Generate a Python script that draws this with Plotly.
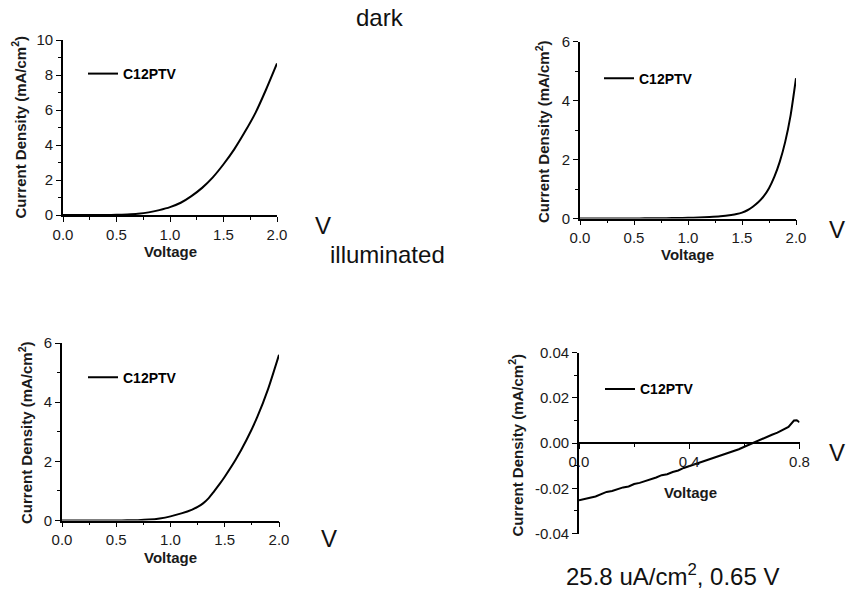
import plotly.graph_objects as go

# ---------------- data ----------------
series_name = "C12PTV"

dark1_v = [0.0, 0.1, 0.2, 0.3, 0.4, 0.5, 0.6, 0.7, 0.8, 0.9, 1.0, 1.1, 1.2, 1.3,
           1.4, 1.5, 1.6, 1.7, 1.8, 1.9, 2.0]
dark1_j = [0.0, 0.0, 0.0, 0.0, 0.003, 0.01, 0.03, 0.07, 0.15, 0.28, 0.45, 0.7, 1.08,
           1.55, 2.15, 2.9, 3.75, 4.75, 5.85, 7.2, 8.66]

dark2_v = [0.0, 0.1, 0.2, 0.3, 0.4, 0.5, 0.6, 0.7, 0.8, 0.9, 1.0, 1.1, 1.2, 1.3,
           1.4, 1.45, 1.5, 1.55, 1.6, 1.65, 1.7, 1.75, 1.8, 1.85, 1.9, 1.95, 2.0]
dark2_j = [0.0, 0.0, 0.0, 0.0, 0.0, 0.003, 0.005, 0.008, 0.012, 0.017, 0.024, 0.035,
           0.05, 0.075, 0.12, 0.15, 0.2, 0.28, 0.4, 0.55, 0.75, 1.03, 1.42, 1.93,
           2.6, 3.5, 4.76]

illum1_v = [0.0, 0.1, 0.2, 0.3, 0.4, 0.5, 0.6, 0.7, 0.8, 0.9, 1.0, 1.1, 1.2, 1.25,
            1.3, 1.35, 1.4, 1.45, 1.5, 1.6, 1.7, 1.8, 1.9, 2.0]
illum1_j = [0.0, 0.0, 0.0, 0.0, 0.0, 0.002, 0.005, 0.012, 0.03, 0.07, 0.14, 0.24,
            0.37, 0.46, 0.58, 0.75, 0.98, 1.22, 1.48, 2.05, 2.72, 3.5, 4.45, 5.6]

illum2_v = [0.00, 0.02, 0.04, 0.06, 0.08, 0.10, 0.12, 0.14, 0.16, 0.18, 0.20, 0.22,
            0.24, 0.26, 0.28, 0.30, 0.32, 0.34, 0.36, 0.38, 0.40, 0.42, 0.44, 0.46,
            0.48, 0.50, 0.52, 0.54, 0.56, 0.58, 0.60, 0.62, 0.64, 0.66, 0.68, 0.70,
            0.72, 0.74, 0.76, 0.78, 0.79, 0.80]
illum2_j = [-0.0253, -0.0246, -0.0242, -0.0236, -0.0225, -0.0216, -0.0212, -0.0204,
            -0.0196, -0.0192, -0.0181, -0.0176, -0.0168, -0.0162, -0.0152, -0.0142,
            -0.0138, -0.0128, -0.0121, -0.0110, -0.0102, -0.0093, -0.0085, -0.0076,
            -0.0068, -0.0060, -0.0052, -0.0045, -0.0036, -0.0027, -0.0016, -0.0005,
            0.0004, 0.0014, 0.0026, 0.0037, 0.0046, 0.0058, 0.0072, 0.0100, 0.0101,
            0.0092]

p4_ytick_vals = [-0.04, -0.02, 0.0, 0.02, 0.04]
p4_ytick_text = ["-0.04", "-0.02", "0.00", "0.02", "0.04"]

label_dark = "dark"
label_illum = "illuminated"
label_result = "25.8 uA/cm<sup>2</sup>, 0.65 V"
y_title = "<b>Current Density (mA/cm<sup>2</sup>)</b>"
x_title = "<b>Voltage</b>"

# ---------------- layout helpers ----------------
W, H = 848, 590
FONT = "Arial, Liberation Sans, sans-serif"


def fx(px):
    return px / W


def fy(py):
    return 1 - py / H


panels = [
    # (x0, x1, ytop, ybottom) in pixels
    (63, 277, 40, 215),
    (580, 796, 41.7, 218.5),
    (62, 279, 343, 520.5),
    (579, 799.5, 352.7, 533.5),
]

fig = go.Figure()

traces = [(dark1_v, dark1_j, "spline"), (dark2_v, dark2_j, "spline"),
          (illum1_v, illum1_j, "spline"), (illum2_v, illum2_j, "linear")]
for i, (v, j, shp) in enumerate(traces):
    n = "" if i == 0 else str(i + 1)
    fig.add_trace(go.Scatter(
        x=v, y=j, mode="lines", name=series_name,
        line=dict(color="black", width=2, shape=shp, smoothing=0.6),
        xaxis="x" + n, yaxis="y" + n,
        legend="legend" + n,
        showlegend=True,
    ))

tickfont = dict(family=FONT, size=15, color="#1a1a1a")


def xaxis_cfg(i, rng, dtick, minor_dtick, fmt):
    x0, x1, yt, yb = panels[i]
    n = "" if i == 0 else str(i + 1)
    return dict(
        domain=[fx(x0), fx(x1)], range=rng, anchor="y" + n, automargin=False,
        showline=True, linecolor="black", linewidth=1.6,
        ticks="outside", ticklen=5, tickwidth=1.4, tickcolor="black",
        dtick=dtick, tick0=0, tickformat=fmt,
        minor=dict(dtick=minor_dtick, ticks="outside", ticklen=3, tickwidth=1.2,
                   tickcolor="black", showgrid=False),
        showgrid=False, zeroline=False, tickfont=tickfont,
    )


def yaxis_cfg(i, rng, dtick, minor_dtick):
    x0, x1, yt, yb = panels[i]
    n = "" if i == 0 else str(i + 1)
    return dict(
        domain=[fy(yb), fy(yt)], range=rng, anchor="x" + n, automargin=False,
        showline=True, linecolor="black", linewidth=1.6,
        ticks="outside", ticklen=5, tickwidth=1.4, tickcolor="black",
        dtick=dtick, tick0=0,
        minor=dict(dtick=minor_dtick, ticks="outside", ticklen=3, tickwidth=1.2,
                   tickcolor="black", showgrid=False),
        showgrid=False, zeroline=False, tickfont=tickfont,
    )


layout = dict(
    template="none",
    width=W, height=H, margin=dict(l=0, r=0, t=0, b=0, pad=0),
    paper_bgcolor="white", plot_bgcolor="white",
    font=dict(family=FONT, color="black"),
    xaxis=xaxis_cfg(0, [0, 2.0], 0.5, 0.25, ".1f"),
    yaxis=yaxis_cfg(0, [0, 10], 2, 1),
    xaxis2=xaxis_cfg(1, [0, 2.0], 0.5, 0.25, ".1f"),
    yaxis2=yaxis_cfg(1, [0, 6], 2, 1),
    xaxis3=xaxis_cfg(2, [0, 2.0], 0.5, 0.25, ".1f"),
    yaxis3=yaxis_cfg(2, [0, 6], 2, 1),
    xaxis4=xaxis_cfg(3, [0, 0.8], 0.4, 0.2, ".1f"),
    yaxis4=yaxis_cfg(3, [-0.04, 0.04], 0.02, 0.01),
)
# panel 4: x axis crosses at y = 0
p4 = panels[3]
layout["xaxis4"]["anchor"] = "free"
layout["xaxis4"]["position"] = (fy(p4[3]) + fy(p4[2])) / 2
layout["yaxis4"]["tickvals"] = p4_ytick_vals
layout["yaxis4"]["ticktext"] = p4_ytick_text

# legends
legend_pos = [(83, 74), (599, 78.7), (83, 377.7), (600, 389.3)]
for i, (lx, ly) in enumerate(legend_pos):
    n = "" if i == 0 else str(i + 1)
    layout["legend" + n] = dict(
        x=fx(lx), y=fy(ly), xanchor="left", yanchor="middle",
        bgcolor="rgba(0,0,0,0)", borderwidth=0,
        font=dict(family=FONT, size=14, color="black", weight="bold"),
    )

fig.update_layout(**layout)

annotations = []
# y-axis titles
ytitle_pos = [(19, 127.5), (542, 132), (25, 433), (515.5, 445)]
for (ax, ay) in ytitle_pos:
    annotations.append(dict(
        text=y_title, x=fx(ax), y=fy(ay), xref="paper", yref="paper",
        showarrow=False, textangle=-90, xanchor="center", yanchor="middle",
        font=dict(family=FONT, size=15, color="#1a1a1a"),
    ))
# x-axis titles
xtitle_pos = [(170, 251), (687.5, 254), (170, 557), (690, 492)]
for (ax, ay) in xtitle_pos:
    annotations.append(dict(
        text=x_title, x=fx(ax), y=fy(ay), xref="paper", yref="paper",
        showarrow=False, xanchor="center", yanchor="middle",
        font=dict(family=FONT, size=15, color="#1a1a1a"),
    ))
# big labels
big = dict(family=FONT, size=24, color="#111")
big_labels = [
    (label_dark, 380, 18, "center"),
    (label_illum, 387.5, 254, "center"),
    ("V", 313, 226, "left"),
    ("V", 847, 229, "right"),
    ("V", 319, 538, "left"),
    ("V", 847, 452, "right"),
    (label_result, 672.5, 575, "center"),
]
for (t, ax, ay, anc) in big_labels:
    annotations.append(dict(
        text=t, x=fx(ax), y=fy(ay), xref="paper", yref="paper",
        showarrow=False, xanchor=anc, yanchor="middle", font=big,
    ))
fig.update_layout(annotations=annotations)

fig.write_html(
    "out.html",
    config={"displayModeBar": False},
    post_script="document.body.style.margin='0';document.body.style.overflow='hidden';",
)
